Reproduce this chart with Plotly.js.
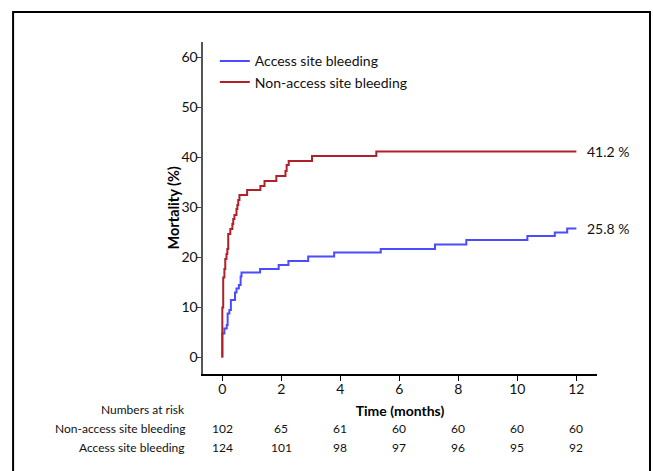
<!DOCTYPE html>
<html>
<head>
<meta charset="utf-8">
<script src="https://cdn.plot.ly/plotly-3.0.1.min.js"></script>
<style>html,body{margin:0;padding:0;background:#fff;}#chart{width:653px;height:471px;}</style>
</head>
<body>
<div id="chart"></div>
<script>
// Kaplan-Meier style cumulative mortality (%), step data
const accessTime = [0, 0, 0.07, 0.15, 0.18, 0.24, 0.29, 0.43, 0.48, 0.56, 0.62, 0.65, 1.28, 1.91, 2.24, 2.91, 3.79, 5.37, 7.21, 8.27, 10.34, 11.27, 11.69, 12];
const accessMort = [0, 4.8, 5.8, 6.5, 8.8, 9.5, 11.5, 13.0, 13.8, 14.5, 16.2, 17.0, 17.7, 18.5, 19.3, 20.2, 21.0, 21.7, 22.6, 23.5, 24.3, 25.0, 25.8, 25.8];
const nonAccessTime = [0, 0, 0.03, 0.07, 0.1, 0.14, 0.17, 0.2, 0.27, 0.34, 0.37, 0.41, 0.48, 0.51, 0.54, 0.58, 0.84, 1.29, 1.43, 1.83, 2.14, 2.18, 2.25, 3.04, 5.22, 12];
const nonAccessMort = [0, 10.0, 16.0, 17.7, 19.7, 20.7, 21.7, 24.7, 25.7, 26.7, 27.7, 28.5, 29.7, 30.5, 31.5, 32.5, 33.5, 34.3, 35.3, 36.3, 37.3, 38.5, 39.3, 40.3, 41.2, 41.2];

const seriesNames = ["Access site bleeding", "Non-access site bleeding"];
const endLabels = ["25.8 %", "41.2 %"];
const endValues = [25.8, 41.2];

const riskTimes = [0, 2, 4, 6, 8, 10, 12];
const riskNonAccess = [102, 65, 61, 60, 60, 60, 60];
const riskAccess = [124, 101, 98, 97, 96, 95, 92];
const riskRowLabels = ["Numbers at risk", "Non-access site bleeding", "Access site bleeding"];

const xTicks = [0, 2, 4, 6, 8, 10, 12];
const yTicks = [0, 10, 20, 30, 40, 50, 60];

const FONT = "Lato, 'Open Sans', sans-serif";
const colors = ["#4b4bff", "#b0202a"];
const TABLE_SIZE = 12;

const traces = [
  {x: accessTime, y: accessMort, name: seriesNames[0], type: "scatter", mode: "lines",
   line: {shape: "hv", color: colors[0], width: 2}},
  {x: nonAccessTime, y: nonAccessMort, name: seriesNames[1], type: "scatter", mode: "lines",
   line: {shape: "hv", color: colors[1], width: 2}}
];

const annotations = [];
endLabels.forEach((t, i) => {
  annotations.push({x: 12, y: endValues[i], xref: "x", yref: "y", text: t, showarrow: false,
    xanchor: "left", xshift: 9, font: {family: FONT, size: 14, color: "#111"}});
});
const rowY = [-0.106, -0.164, -0.22];
riskRowLabels.forEach((t, i) => {
  annotations.push({x: -0.041, y: rowY[i], xref: "paper", yref: "paper", text: t, showarrow: false,
    xanchor: "right", yanchor: "middle", font: {family: FONT, size: TABLE_SIZE, color: "#111"}});
});
[riskNonAccess, riskAccess].forEach((row, r) => {
  row.forEach((n, i) => {
    annotations.push({x: riskTimes[i], y: rowY[r + 1], xref: "x", yref: "paper", text: String(n),
      showarrow: false, xanchor: "center", yanchor: "middle", font: {family: FONT, size: TABLE_SIZE, color: "#111"}});
  });
});
// y-axis title
annotations.push({x: -0.075, y: 0.5, xref: "paper", yref: "paper", text: "<b>Mortality (%)</b>",
  textangle: -90, showarrow: false, xanchor: "center", yanchor: "middle",
  font: {family: FONT, size: 14.5, color: "#000"}});

const layout = {
  width: 653, height: 471,
  margin: {l: 203, r: 56, t: 42, b: 97},
  paper_bgcolor: "#fff", plot_bgcolor: "#fff",
  font: {family: FONT, size: 14, color: "#111"},
  showlegend: true,
  legend: {x: 0.03, y: 0.99, xanchor: "left", yanchor: "top", bgcolor: "rgba(0,0,0,0)",
    font: {family: FONT, size: 14, color: "#111"}, tracegroupgap: 0},
  xaxis: {range: [-0.655, 12.7], tickvals: xTicks, ticks: "outside", ticklen: 5, tickwidth: 1.2,
    tickcolor: "#000", showline: true, linecolor: "#000", linewidth: 1.5, showgrid: false, zeroline: false,
    ticklabelstandoff: -3,
    tickfont: {family: FONT, size: 14, color: "#111"},
    title: {text: "<b>Time (months)</b>", standoff: 10, font: {family: FONT, size: 14, color: "#000"}}},
  yaxis: {range: [-3.3, 63.1], tickvals: yTicks, ticks: "outside", ticklen: 5, tickwidth: 1.5,
    tickcolor: "#444", showline: true, linecolor: "#555", linewidth: 2.5, showgrid: false, zeroline: false,
    ticklabelstandoff: -5,
    tickfont: {family: FONT, size: 14, color: "#111"}},
  shapes: [{type: "rect", xref: "paper", yref: "paper", x0: -0.482, x1: 1.1345, y0: -0.33, y1: 1.090,
    line: {color: "#000", width: 2}, fillcolor: "rgba(0,0,0,0)"}],
  annotations: annotations
};

Plotly.newPlot("chart", traces, layout, {displayModeBar: false, staticPlot: true});
</script>
</body>
</html>
